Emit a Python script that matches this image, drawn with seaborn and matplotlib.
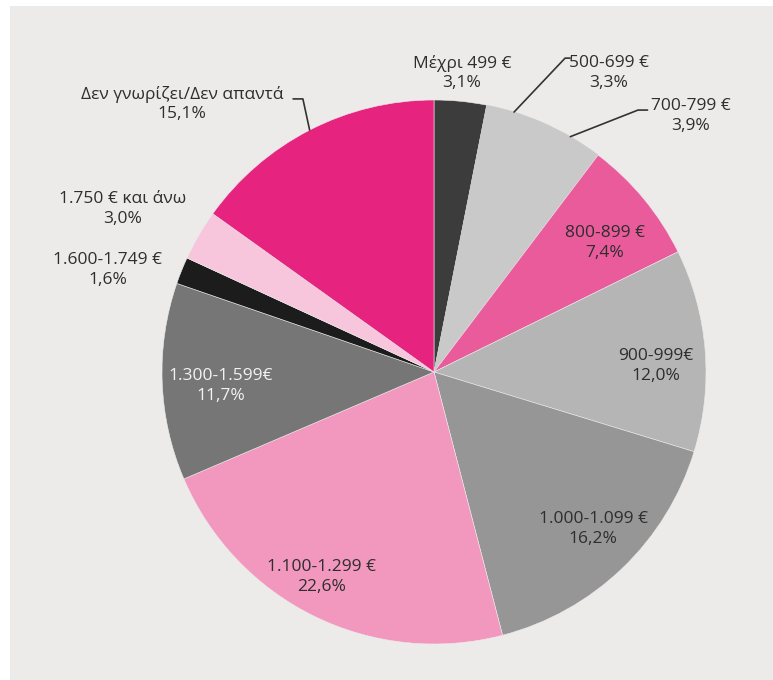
import numpy as np
import matplotlib
matplotlib.use("Agg")
import matplotlib.pyplot as plt
from matplotlib.patches import Rectangle
import seaborn as sns

# data
categories = ["Μέχρι 499 €", "500-699 €", "700-799 €", "800-899 €", "900-999€",
              "1.000-1.099 €", "1.100-1.299 €", "1.300-1.599€", "1.600-1.749 €",
              "1.750 € και άνω", "Δεν γνωρίζει/Δεν απαντά"]
shares = [3.1, 3.3, 3.9, 7.4, 12.0, 16.2, 22.6, 11.7, 1.6, 3.0, 15.1]
share_labels = ["3,1%", "3,3%", "3,9%", "7,4%", "12,0%", "16,2%", "22,6%",
                "11,7%", "1,6%", "3,0%", "15,1%"]

colors = ["#3c3c3c", "#c9c9c9", "#c9c9c9", "#ea5b9c", "#b5b5b5", "#969696",
          "#f297bd", "#767676", "#1c1c1c", "#f7c5dc", "#e6247f"]
text_colors = ["#2e2e2e"] * 7 + ["#f2f2f2"] + ["#2e2e2e"] * 3

# label centres (pie radius = 1)
label_xy = [(0.103, 1.099), (0.643, 1.099), (0.945, 0.941), (0.629, 0.474),
            (0.816, 0.022), (0.585, -0.577), (-0.412, -0.754), (-0.783, -0.051),
            (-1.199, 0.375), (-1.143, 0.599), (-0.926, 0.985)]
# leader lines: slice index -> elbow points
leaders = {1: [(0.482, 1.154), (0.50, 1.154)],
           2: [(0.75, 0.963), (0.785, 0.963)],
           10: [(-0.482, 1.004), (-0.518, 1.004)]}

sns.set_theme(style="white")
plt.rcParams["font.family"] = ["Open Sans", "DejaVu Sans"]

fig = plt.figure(figsize=(7.73, 6.8), dpi=100)
fig.patch.set_facecolor("white")
fig.patches.append(Rectangle((10 / 773, 0), 1, 674 / 680, transform=fig.transFigure,
                             facecolor="#ecebea", edgecolor="none", zorder=-10))
ax = fig.add_axes([0, 0, 1, 1])
ax.set_facecolor("none")

wedges, _ = ax.pie(shares, colors=colors, startangle=90, counterclock=False,
                   wedgeprops=dict(edgecolor="#ecebea", linewidth=0.4))
# the two light-grey slices run together in the original
for w in wedges[1:3]:
    w.set_edgecolor(w.get_facecolor())

for i, w in enumerate(wedges):
    x, y = label_xy[i]
    ax.text(x, y, categories[i] + "\n" + share_labels[i], ha="center", va="center",
            fontsize=12.5, color=text_colors[i], linespacing=1.3)
    if i in leaders:
        mid = np.deg2rad((w.theta1 + w.theta2) / 2)
        pts = [(np.cos(mid), np.sin(mid))] + leaders[i]
        ax.plot([p[0] for p in pts], [p[1] for p in pts], color="#333333", lw=1.2)

ax.set_xlim(-434 / 272, (773 - 434) / 272)
ax.set_ylim((372 - 680) / 272, 372 / 272)
ax.set_aspect("equal", adjustable="box")
ax.axis("off")

fig.savefig("out.png", dpi=100, facecolor=fig.get_facecolor())
